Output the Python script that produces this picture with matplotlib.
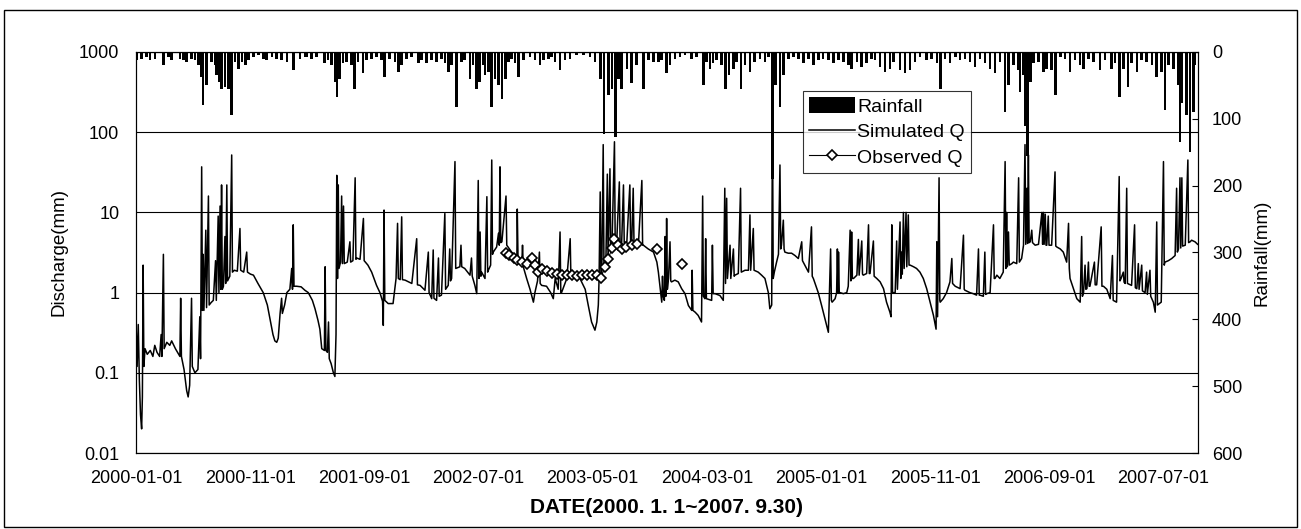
import numpy as np
import matplotlib.pyplot as plt
from matplotlib.patches import Rectangle

plt.rcParams['font.family'] = ['Liberation Sans', 'DejaVu Sans']

start = np.datetime64('2000-01-01')

# (days since 2000-01-01, discharge mm)
simulated_q = [
    (0, 0.45), (3, 0.12), (6, 0.4), (9, 0.08), (12, 0.03), (15, 0.02), (17, 0.05), (19, 2.2),
    (21, 0.12), (24, 0.2), (30, 0.17), (38, 0.19), (45, 0.16), (50, 0.22), (56, 0.18), (63, 0.16),
    (67, 0.3), (69, 0.16), (73, 3.0), (75, 0.2), (82, 0.24), (90, 0.22), (95, 0.25), (105, 0.2),
    (117, 0.16), (119, 0.85), (121, 0.16), (128, 0.11), (135, 0.06), (139, 0.05), (143, 0.07),
    (148, 0.85), (150, 0.12), (157, 0.1), (165, 0.11), (170, 0.5), (172, 0.15), (175, 37),
    (177, 0.6), (179, 3), (181, 0.6), (186, 6), (188, 0.65), (193, 16), (195, 0.7), (200, 0.75),
    (206, 0.8), (212, 2.5), (214, 0.8), (219, 9), (221, 1.0), (224, 12), (226, 1.1), (228, 22),
    (230, 1.1), (233, 1.2), (237, 5), (239, 1.3), (242, 22), (244, 1.4), (250, 1.6), (255, 52),
    (257, 1.8), (262, 1.9), (270, 1.85), (277, 6.3), (279, 1.9), (287, 1.8), (295, 3.2),
    (297, 1.8), (305, 1.7), (313, 1.65), (325, 1.3), (339, 1.0), (350, 0.7), (357, 0.47),
    (365, 0.3), (370, 0.25), (375, 0.24), (379, 0.27), (384, 0.55), (388, 0.85), (390, 0.55),
    (396, 0.7), (402, 1.0), (410, 1.1), (415, 2.0), (417, 1.1), (419, 7.0), (421, 1.2),
    (428, 1.2), (440, 1.18), (450, 1.07),
    (459, 1.0), (470, 0.8), (477, 0.63), (485, 0.45), (490, 0.35), (495, 0.2), (502, 0.19),
    (504, 2.1), (506, 0.19), (510, 0.18), (513, 0.43), (515, 0.15), (520, 0.13), (526, 0.1),
    (530, 0.09), (533, 0.3), (535, 29), (537, 1.5), (539, 22), (541, 2.0), (545, 2.4), (548, 16),
    (550, 2.3), (553, 12), (555, 2.3), (563, 2.4), (570, 4.3), (572, 2.4), (578, 2.5), (584, 27),
    (586, 2.6), (588, 2.7), (597, 2.6), (606, 8.4), (608, 2.5), (618, 2.2), (628, 1.8),
    (641, 1.23), (650, 1.0), (657, 0.78), (659, 0.39), (661, 10.7), (663, 0.8), (672, 0.73),
    (685, 0.73), (693, 1.5), (697, 7.3), (699, 1.5), (704, 1.45), (708, 8.8), (710, 1.45),
    (717, 1.43), (735, 1.3), (748, 4.7), (750, 1.25), (757, 1.23), (770, 1.07), (779, 3.2),
    (781, 1.0), (788, 0.84), (792, 3.4), (794, 0.85), (801, 0.8), (806, 2.7), (808, 0.9),
    (814, 0.93), (823, 9.7), (825, 1.1), (832, 1.23), (836, 3.5), (838, 1.4), (841, 1.5),
    (850, 43), (852, 2.0), (863, 2.1), (866, 3.9), (868, 2.1), (876, 2.0), (890, 1.65),
    (894, 2.7), (896, 1.6), (903, 1.23), (908, 0.97), (912, 25), (914, 1.5), (917, 5.7),
    (919, 1.6), (921, 1.8), (930, 1.5),
    (935, 15.7), (937, 1.8), (939, 1.9), (945, 2.2), (948, 45), (950, 3.0), (952, 3.2),
    (961, 3.7), (966, 5.5), (968, 3.9), (970, 37), (972, 4.2), (975, 4.3), (986, 16), (988, 3.9),
    (1001, 3.2), (1015, 2.7), (1016, 11), (1018, 2.6), (1028, 2.2), (1030, 3.9), (1032, 2.1),
    (1041, 1.5), (1050, 1.1), (1059, 0.76), (1063, 1.0), (1070, 1.4), (1075, 3.2), (1077, 1.3),
    (1081, 1.23), (1094, 1.2), (1105, 1.0), (1112, 0.84), (1117, 1.5), (1125, 1.1), (1130, 5.7),
    (1132, 1.0), (1134, 1.0), (1148, 1.5), (1157, 4.7), (1159, 1.5), (1161, 1.5), (1174, 1.65),
    (1183, 1.5), (1197, 1.1), (1205, 0.7), (1214, 0.43), (1223, 0.34), (1228, 0.43), (1232, 0.7),
    (1234, 1.5), (1237, 18), (1239, 1.6), (1241, 1.5), (1245, 70), (1247, 2.0), (1252, 2.2),
    (1256, 30), (1258, 2.6), (1263, 35), (1265, 3.2), (1268, 3.2), (1275, 76), (1277, 3.9),
    (1281, 4.3), (1288, 24), (1290, 4.1), (1294, 3.9), (1299, 22), (1301, 4.2), (1308, 4.3),
    (1316, 22), (1318, 4.3), (1321, 4.3), (1325, 20), (1327, 4.3), (1339, 4.1), (1348, 25),
    (1350, 3.9), (1352, 3.9), (1365, 3.5), (1379, 3.2), (1388, 2.4), (1392, 1.8), (1396, 1.23),
    (1401, 0.76), (1403, 1.6), (1405, 0.9), (1408, 0.8), (1410, 5), (1412, 0.9), (1414, 8.4),
    (1416, 1.1), (1419, 1.5), (1423, 4.3), (1425, 1.4), (1427, 1.36), (1436, 1.43), (1445, 1.36),
    (1454, 1.12), (1463, 0.97), (1472, 0.69), (1481, 0.6), (1482, 1.9), (1484, 0.6), (1490, 0.57),
    (1498, 0.52), (1507, 0.43), (1510, 16), (1512, 0.9), (1516, 0.84), (1518, 4.7), (1520, 0.84),
    (1534, 0.8), (1536, 3.9), (1538, 0.97), (1543, 0.97), (1556, 0.92), (1565, 0.8), (1569, 20),
    (1571, 1.3), (1574, 15), (1576, 1.5), (1583, 3.9), (1585, 1.5), (1592, 3.5), (1594, 1.6),
    (1596, 1.65), (1605, 1.73), (1611, 20), (1613, 1.8), (1623, 1.9), (1632, 1.9), (1636, 9.3),
    (1638, 1.9), (1645, 6.3), (1647, 1.9), (1658, 1.8), (1667, 1.65), (1676, 1.5), (1685, 1.0),
    (1689, 0.63), (1694, 0.7), (1696, 200), (1698, 1.5), (1701, 1.8), (1707, 2.4), (1712, 3),
    (1716, 39), (1718, 3.5), (1720, 3.9), (1725, 8), (1727, 3.5), (1729, 3.2), (1738, 3.1),
    (1747, 3.1), (1756, 2.9), (1765, 2.66), (1774, 4.3), (1776, 2.5), (1792, 1.8), (1800, 6.6),
    (1802, 1.6), (1805, 1.5), (1818, 1.0), (1827, 0.69), (1836, 0.47), (1845, 0.32), (1851, 3.5),
    (1853, 0.8), (1855, 0.76), (1863, 0.84),
    (1867, 1.0), (1869, 3.5), (1871, 1.0), (1872, 3.2), (1874, 1.0), (1876, 1.0), (1885, 0.97),
    (1894, 1.0), (1898, 1.2), (1903, 6), (1905, 1.4), (1907, 5.7), (1909, 1.5), (1912, 1.5),
    (1921, 1.65), (1925, 4.6), (1927, 1.65), (1934, 4.4), (1936, 1.7), (1938, 1.65), (1947, 1.73),
    (1952, 7), (1954, 1.73), (1956, 1.73), (1965, 4.4), (1967, 1.6), (1974, 1.5), (1983, 1.36),
    (1992, 1.12), (2000, 0.76), (2009, 0.57), (2012, 0.5), (2014, 7), (2016, 1.0), (2018, 1.0),
    (2023, 1.0), (2027, 4.4), (2029, 1.1), (2036, 7.6), (2038, 1.5), (2040, 3.2), (2042, 1.7),
    (2045, 10), (2047, 2.0), (2052, 10), (2054, 2.1), (2058, 9.3), (2060, 2.2), (2063, 2.2),
    (2072, 2.1), (2080, 2.0), (2089, 1.8), (2098, 1.5), (2107, 1.12), (2116, 0.76), (2125, 0.52),
    (2132, 0.35), (2134, 4.3), (2136, 0.5), (2140, 27), (2142, 0.8), (2143, 0.76), (2151, 0.84),
    (2160, 1.0), (2169, 1.36), (2174, 2.66), (2176, 1.3), (2183, 1.2), (2196, 1.12), (2205, 5.2),
    (2207, 1.1), (2209, 1.07), (2222, 1.0), (2231, 0.97), (2240, 0.93), (2245, 3.5), (2247, 0.93),
    (2249, 0.93), (2258, 0.9), (2262, 3.2), (2264, 0.95), (2267, 0.97), (2276, 1.0), (2285, 7),
    (2287, 1.5), (2289, 1.5), (2294, 1.65), (2302, 1.5), (2311, 1.8), (2316, 43), (2318, 2.0),
    (2320, 10), (2322, 2.1), (2325, 5.7), (2327, 2.2), (2334, 2.3),
    (2338, 2.4), (2347, 2.3), (2352, 27), (2354, 2.4), (2360, 2.66), (2365, 3.9), (2369, 70),
    (2371, 4.0), (2374, 20), (2376, 4.1), (2378, 52), (2380, 4.2), (2383, 4.3), (2387, 6),
    (2389, 4.2), (2396, 3.9), (2405, 4.0), (2414, 10), (2416, 4.0), (2418, 10), (2420, 4.0),
    (2423, 9.5), (2425, 3.9), (2427, 3.9), (2431, 9), (2433, 3.9), (2440, 3.9), (2449, 32),
    (2451, 3.8), (2454, 3.7), (2463, 3.5), (2471, 3.2), (2480, 2.4), (2485, 7.3), (2487, 2.0),
    (2489, 1.5), (2498, 1.12), (2507, 0.84), (2516, 0.76), (2520, 5), (2522, 0.9), (2525, 1.0),
    (2529, 2.2), (2531, 1.1), (2534, 1.12), (2538, 2.4), (2540, 1.2), (2542, 1.2), (2554, 2.4),
    (2556, 1.25), (2560, 1.25), (2572, 6.6), (2574, 1.2), (2578, 1.2), (2587, 1.1), (2596, 0.84),
    (2602, 2.9), (2604, 0.8), (2613, 0.76), (2620, 28), (2622, 1.4), (2625, 1.5), (2631, 1.8),
    (2633, 1.35), (2636, 1.3), (2640, 20), (2642, 1.3), (2653, 1.23), (2661, 7), (2663, 1.15),
    (2667, 1.12), (2671, 2.3), (2673, 1.1), (2680, 2.2), (2682, 1.05), (2689, 1.0), (2693, 1.8),
    (2695, 0.95), (2702, 1.9), (2704, 0.9), (2711, 0.76), (2716, 0.57), (2720, 7.6), (2722, 0.7),
    (2732, 0.76), (2738, 43), (2740, 2.2), (2742, 2.4), (2751, 2.5), (2760, 2.66), (2769, 2.9),
    (2773, 20), (2775, 3.2), (2778, 3.5), (2782, 27), (2784, 3.6), (2787, 27), (2789, 3.8),
    (2796, 3.9), (2803, 45), (2805, 4.2), (2809, 4.3), (2813, 4.5), (2822, 4.3), (2829, 4.0),
]

observed_q = [
    (986, 3.16), (995, 2.98), (1006, 2.71), (1016, 2.54), (1028, 2.42), (1041, 2.3), (1055, 2.71),
    (1063, 2.2), (1072, 1.81), (1081, 1.96), (1095, 1.85), (1108, 1.76), (1121, 1.73), (1134, 1.68),
    (1148, 1.65), (1161, 1.68), (1175, 1.62), (1188, 1.65), (1201, 1.68), (1215, 1.65), (1228, 1.65),
    (1238, 1.5), (1250, 2.1), (1259, 2.66), (1268, 3.55), (1275, 4.7), (1285, 3.9), (1294, 3.48),
    (1307, 3.72), (1321, 3.9), (1334, 4.0), (1388, 3.5), (1454, 2.3),
]

# (days since 2000-01-01, rainfall mm)
rainfall = [
    (2, 12), (15, 10), (28, 7), (37, 12), (51, 10), (73, 20), (86, 7), (95, 12), (117, 10),
    (126, 12), (135, 15), (148, 10), (157, 12), (166, 20), (175, 37), (179, 80), (188, 50),
    (202, 15), (211, 20), (215, 35), (222, 45), (228, 55), (237, 52), (246, 55), (255, 95),
    (264, 15), (273, 25), (282, 15), (291, 20), (299, 12), (313, 7), (326, 5), (339, 10),
    (348, 12), (362, 7), (375, 10), (388, 12), (402, 15), (419, 27), (437, 10), (450, 7),
    (454, 7), (468, 10), (481, 7), (503, 17), (512, 12), (521, 20), (530, 45), (536, 67),
    (543, 40), (552, 17), (561, 15), (574, 20), (583, 55), (592, 15), (605, 32), (614, 12),
    (628, 10), (641, 7), (654, 12), (663, 37), (676, 10), (690, 15), (699, 30), (708, 20),
    (721, 10), (734, 7), (752, 17), (761, 12), (774, 17), (787, 12), (801, 15), (814, 10),
    (823, 17), (832, 30), (841, 20), (854, 82), (867, 15), (876, 12), (890, 40), (898, 20),
    (907, 55), (916, 45), (925, 20),
    (930, 35), (939, 30), (948, 82), (957, 40), (966, 50), (975, 70), (984, 40), (992, 15),
    (1001, 10), (1010, 17), (1019, 37), (1032, 12), (1050, 7), (1063, 12), (1077, 20), (1086, 12),
    (1099, 10), (1108, 7), (1117, 15), (1130, 27), (1143, 12), (1157, 10), (1174, 5), (1192, 5),
    (1210, 7), (1223, 15), (1237, 40), (1247, 122), (1259, 65), (1268, 55), (1277, 127),
    (1285, 40), (1294, 55), (1308, 25), (1321, 47), (1334, 20), (1352, 55), (1365, 12),
    (1379, 15), (1392, 15),
    (1401, 12), (1414, 32), (1423, 20), (1436, 10), (1450, 7), (1463, 5), (1481, 10), (1494, 7),
    (1512, 50), (1521, 15), (1530, 25), (1538, 17), (1547, 12), (1561, 20), (1571, 55), (1580, 35),
    (1592, 25), (1601, 15), (1612, 55), (1623, 20), (1636, 30), (1649, 15), (1663, 10), (1676, 15),
    (1685, 7), (1696, 190), (1704, 50), (1716, 82), (1725, 35), (1738, 10), (1752, 7), (1765, 10),
    (1778, 17), (1792, 10), (1805, 20), (1818, 12), (1831, 10), (1845, 12),
    (1858, 17), (1872, 12), (1885, 15), (1898, 20), (1907, 25), (1921, 15), (1934, 22), (1947, 17),
    (1960, 10), (1969, 12), (1983, 22), (1996, 30), (2009, 25), (2018, 15), (2036, 27), (2049, 32),
    (2063, 27), (2076, 15), (2089, 7), (2107, 12), (2120, 10), (2134, 17), (2143, 55), (2156, 10),
    (2169, 17), (2183, 7), (2196, 12), (2209, 10), (2222, 15), (2236, 22), (2249, 10), (2262, 17),
    (2276, 25), (2289, 32), (2302, 15),
    (2316, 90), (2325, 50), (2338, 20), (2352, 27), (2356, 60), (2365, 35), (2371, 110),
    (2376, 155), (2383, 45), (2391, 17), (2405, 15), (2418, 30), (2427, 25), (2440, 27),
    (2451, 65), (2463, 7), (2476, 10), (2489, 30), (2502, 12), (2516, 20), (2525, 25), (2538, 10),
    (2551, 15), (2569, 27), (2582, 12), (2600, 25), (2609, 17), (2621, 67), (2631, 25), (2643, 52),
    (2653, 17), (2667, 30), (2680, 12), (2693, 15), (2707, 20), (2720, 37), (2733, 30), (2742, 87),
    (2751, 20), (2764, 25), (2778, 50), (2782, 135), (2787, 77), (2800, 95), (2809, 150),
    (2818, 90), (2822, 20),
]

tick_dates = ['2000-01-01', '2000-11-01', '2001-09-01', '2002-07-01', '2003-05-01',
              '2004-03-01', '2005-01-01', '2005-11-01', '2006-09-01', '2007-07-01']
q_ticks = [0.01, 0.1, 1, 10, 100, 1000]
q_labels = ['0.01', '0.1', '1', '10', '100', '1000']
rain_ticks = [0, 100, 200, 300, 400, 500, 600]


def to_dates(days):
    return start + np.asarray(days).astype('timedelta64[D]')


sim_days, sim_vals = np.array(simulated_q).T
obs_days, obs_vals = np.array(observed_q).T
rain_days, rain_vals = np.array(rainfall).T

# break the observed line where there are gaps in the record
gap = np.where(np.diff(obs_days) > 30)[0] + 1
obs_days = np.insert(obs_days, gap, obs_days[gap] - 1)
obs_vals = np.insert(obs_vals, gap, np.nan)

fig = plt.figure(figsize=(13.01, 5.29), dpi=100)
ax = fig.add_axes([136 / 1301, 1 - 453 / 529, 1062 / 1301, 401 / 529])
ax2 = ax.twinx()

sim_line, = ax.plot(to_dates(sim_days.astype(int)), sim_vals, color='black', lw=1.1,
                    label='Simulated Q')
obs_line, = ax.plot(to_dates(obs_days.astype(int)), obs_vals, color='black', lw=0.8,
                    marker='D', ms=5.5, mfc='white', mec='black', mew=1.2, label='Observed Q')

bars = ax2.bar(to_dates(rain_days.astype(int)), rain_vals, width=7, color='black',
               align='center', label='Rainfall')

ax.set_yscale('log')
ax.set_ylim(0.01, 1000)
ax.set_yticks(q_ticks)
ax.set_yticklabels(q_labels)
ax.minorticks_off()
ax.yaxis.grid(True, which='major', color='black', lw=0.8)
ax.set_xlim(start, start + np.timedelta64(2830, 'D'))
ax.set_xticks(np.array(tick_dates, dtype='datetime64[D]'))
ax.set_xticklabels(tick_dates)
ax.tick_params(axis='both', length=0, labelsize=13)
ax.tick_params(axis='y', pad=12)
ax.tick_params(axis='x', pad=12)

ax2.set_ylim(600, 0)
ax2.set_yticks(rain_ticks)
ax2.tick_params(axis='y', direction='in', length=4, labelsize=13, pad=10)

for a in (ax, ax2):
    for s in a.spines.values():
        s.set_color('black')
        s.set_linewidth(0.8)

ax.set_ylabel('Discharge(mm)', fontsize=13.5, labelpad=8)
ax2.set_ylabel('Rainfall(mm)', fontsize=13.5, labelpad=8)
ax.set_xlabel('DATE(2000. 1. 1~2007. 9.30)', fontsize=15, fontweight='bold', labelpad=8)

leg = ax2.legend([bars, sim_line, obs_line], ['Rainfall', 'Simulated Q', 'Observed Q'],
                 loc='upper left', bbox_to_anchor=(0.628, 0.903), borderaxespad=0,
                 fontsize=14, frameon=True, fancybox=False, handlelength=2.4,
                 handleheight=0.9, handletextpad=0.1, labelspacing=0.35, borderpad=0.3)
leg.get_frame().set_edgecolor('black')
leg.get_frame().set_linewidth(0.8)

fig.patches.append(Rectangle((4 / 1301, 2 / 529), 1293 / 1301, 517 / 529, transform=fig.transFigure,
                             fill=False, edgecolor='black', lw=1.0))

fig.savefig('out.png', dpi=100)
